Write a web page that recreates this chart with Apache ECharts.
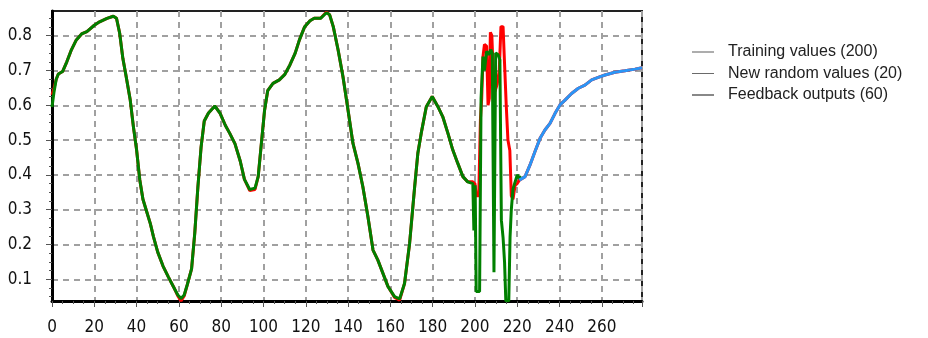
<!DOCTYPE html>
<html><head><meta charset="utf-8">
<script src="https://cdn.jsdelivr.net/npm/echarts@6/dist/echarts.min.js"></script>
<style>html,body{margin:0;padding:0;background:#fff}#c{width:928px;height:338px}</style>
</head><body><div id="c"></div>
<script>
const seriesNames = ['Training values (200)', 'New random values (20)', 'Feedback outputs (60)'];
const legendIconColors = ['#5a5a5a', '#6a6a6a', '#111111'];

// red curve (target signal)
const targetX = [0,1,2,3,5,7,9,11.5,14,16.5,20,22.5,26,29,30.5,32,33.5,35,37,38.5,40,41.5,43,44.5,46.5,48,50,52.5,55,57.5,59.5,61,62.5,64,66,67.5,69,70.5,72,74,77,79.5,82,84,86.5,89,91,93.5,96,97.5,99,100.5,102,104.5,107.5,110,112.5,115,117,119.5,122,124,127,129.8,131.3,133,135.3,137.6,140,142.3,144.7,147,149.4,151.8,154.1,156.5,158.9,162,164.4,166.7,169.1,171.5,173,174.6,177,179.8,182.5,184.8,187.2,189.5,191.9,194.3,196.6,199,
  200,200.6,201.8,202.6,203.2,203.8,204.5,205.5,206.2,206.8,207.3,208,208.6,209.5,210.5,211.5,212.3,213.3,214,214.8,215.6,216.5,217.2,218,219,220,221,223.7,226,228.4,230.8,233.1,235.5,237.9,240.2,242.6,245.7,248.9,252,255.2,258.3,261.5,266.2,270.9,275.7,279];
const targetY = [0.63,0.65,0.675,0.69,0.697,0.725,0.757,0.788,0.805,0.812,0.83,0.84,0.85,0.856,0.85,0.807,0.735,0.685,0.615,0.538,0.472,0.386,0.33,0.3,0.26,0.222,0.178,0.138,0.107,0.078,0.052,0.038,0.052,0.085,0.13,0.232,0.366,0.48,0.555,0.578,0.598,0.577,0.542,0.52,0.49,0.44,0.387,0.355,0.358,0.395,0.49,0.585,0.642,0.663,0.673,0.688,0.716,0.75,0.788,0.826,0.843,0.85,0.85,0.868,0.86,0.826,0.759,0.682,0.586,0.491,0.433,0.366,0.28,0.184,0.155,0.117,0.079,0.048,0.04,0.088,0.203,0.366,0.462,0.52,0.596,0.625,0.596,0.567,0.52,0.472,0.433,0.395,0.38,0.38,
  0.375,0.34,0.34,0.56,0.62,0.74,0.775,0.77,0.6,0.62,0.81,0.8,0.7,0.64,0.66,0.7,0.826,0.826,0.72,0.6,0.5,0.47,0.34,0.33,0.37,0.375,0.385,0.395,0.428,0.467,0.505,0.529,0.548,0.577,0.601,0.615,0.634,0.649,0.658,0.673,0.68,0.687,0.695,0.699,0.704,0.708];

// green curve (network output)
const outputX = [0,1,2,3,5,7,9,11.5,14,16.5,20,22.5,26,29,30.5,32,33.5,35,37,38.5,40,41.5,43,44.5,46.5,48,50,52.5,55,57.5,59.5,61,62.5,64,66,67.5,69,70.5,72,74,77,79.5,82,84,86.5,89,91,93.5,96,97.5,99,100.5,102,104.5,107.5,110,112.5,115,117,119.5,122,124,127,129.8,131.3,133,135.3,137.6,140,142.3,144.7,147,149.4,151.8,154.1,156.5,158.9,162,164.4,166.7,169.1,171.5,173,174.6,177,179.8,182.5,184.8,187.2,189.5,191.9,194.3,196.6,199,
  199.5,200.1,200.6,202.2,202.9,203.8,204.5,205.5,206.5,207.5,208.2,209,209.8,211,211.8,212.5,213.3,214,214.6,216,216.6,217.2,218,219,220,221,222];
const outputY = [0.595,0.64,0.675,0.69,0.697,0.725,0.757,0.788,0.805,0.812,0.83,0.84,0.85,0.856,0.85,0.807,0.735,0.685,0.615,0.538,0.472,0.386,0.33,0.3,0.26,0.222,0.178,0.138,0.107,0.078,0.055,0.045,0.055,0.085,0.13,0.232,0.366,0.48,0.555,0.578,0.598,0.577,0.542,0.52,0.49,0.44,0.387,0.358,0.362,0.395,0.49,0.585,0.642,0.663,0.673,0.688,0.716,0.75,0.788,0.826,0.843,0.85,0.85,0.866,0.86,0.826,0.759,0.682,0.586,0.491,0.433,0.366,0.28,0.184,0.155,0.117,0.079,0.05,0.044,0.088,0.203,0.366,0.462,0.52,0.596,0.625,0.596,0.567,0.52,0.472,0.433,0.395,0.38,0.375,
  0.24,0.37,0.065,0.065,0.62,0.74,0.7,0.755,0.745,0.76,0.75,0.12,0.75,0.745,0.73,0.27,0.22,0.15,0.038,0.038,0.22,0.3,0.36,0.38,0.4,0.39,0.395];

// blue curve (feedback outputs)
const feedbackX = [221,223.7,226,228.4,230.8,233.1,235.5,237.9,240.2,242.6,245.7,248.9,252,255.2,258.3,261.5,266.2,270.9,275.7,279];
const feedbackY = [0.385,0.395,0.428,0.467,0.505,0.529,0.548,0.577,0.601,0.615,0.634,0.649,0.658,0.673,0.68,0.687,0.695,0.699,0.704,0.708];

const yTickValues = [0.1,0.2,0.3,0.4,0.5,0.6,0.7,0.8];
const yMinorTickValues = [0.05,0.075,0.125,0.15,0.175,0.225,0.25,0.275,0.325,0.35,0.375,0.425,0.45,0.475,0.525,0.55,0.575,0.625,0.65,0.675,0.725,0.75,0.775,0.825,0.85];

function pairs(xs, ys) { return xs.map((x, i) => [x, ys[i]]); }

const axisFont = "'Liberation Sans Narrow', 'DejaVu Sans Condensed', 'Liberation Sans', sans-serif";
const gridLine = {show: true, lineStyle: {color: '#a0a0a0', width: 2, type: [6, 5]}};
const chart = echarts.init(document.getElementById('c'), null, {renderer: 'canvas'});
chart.setOption({
  animation: false,
  backgroundColor: '#fff',
  grid: {left: 52, top: 11, right: 286, bottom: 37, show: true, borderColor: '#222', borderWidth: 2, backgroundColor: '#fff'},
  legend: {
    orient: 'vertical', left: 692, top: 44, padding: 0, itemGap: 5.5,
    icon: 'rect', itemWidth: 22, itemHeight: 1,
    textStyle: {fontFamily: "'Liberation Sans', Arial, sans-serif", fontSize: 16, color: '#222', padding: [0, 0, 0, 9]},
    data: seriesNames.map((n, i) => ({name: n, itemStyle: {color: legendIconColors[i]}}))
  },
  xAxis: {
    type: 'value', min: 0, max: 279, interval: 20,
    axisLine: {show: true, onZero: false, lineStyle: {color: '#000', width: 3}},
    axisTick: {show: true, length: 6, lineStyle: {color: '#555'}},
    minorTick: {show: true, splitNumber: 4, length: 3, lineStyle: {color: '#555'}},
    axisLabel: {fontFamily: axisFont, fontSize: 17, color: '#111', margin: 18, showMaxLabel: false},
    splitLine: gridLine
  },
  yAxis: [{
    type: 'value', min: 0.0376, max: 0.871,
    axisLine: {show: true, onZero: false, lineStyle: {color: '#000', width: 3}},
    axisTick: {show: true, length: 6, customValues: yTickValues, lineStyle: {color: '#555'}},
    axisLabel: {customValues: yTickValues, fontFamily: axisFont, fontSize: 17, color: '#111', margin: 20, formatter: v => v.toFixed(1)},
    splitLine: gridLine
  }, {
    type: 'value', min: 0.0376, max: 0.871, position: 'left', offset: 0,
    axisLine: {show: false},
    axisTick: {show: true, length: 3, customValues: yMinorTickValues, lineStyle: {color: '#555'}},
    axisLabel: {show: false},
    splitLine: {show: false}
  }],
  series: [
    {name: seriesNames[0], type: 'line', symbol: 'none', data: pairs(targetX, targetY), lineStyle: {color: '#ff0000', width: 3}, itemStyle: {color: '#ff0000'}, z: 2},
    {name: seriesNames[1], type: 'line', symbol: 'none', data: pairs(outputX, outputY), lineStyle: {color: '#008000', width: 3}, itemStyle: {color: '#008000'}, z: 3},
    {name: seriesNames[2], type: 'line', symbol: 'none', data: pairs(feedbackX, feedbackY), lineStyle: {color: '#2b95f5', width: 3}, itemStyle: {color: '#2b95f5'}, z: 4}
  ]
});
</script></body></html>
